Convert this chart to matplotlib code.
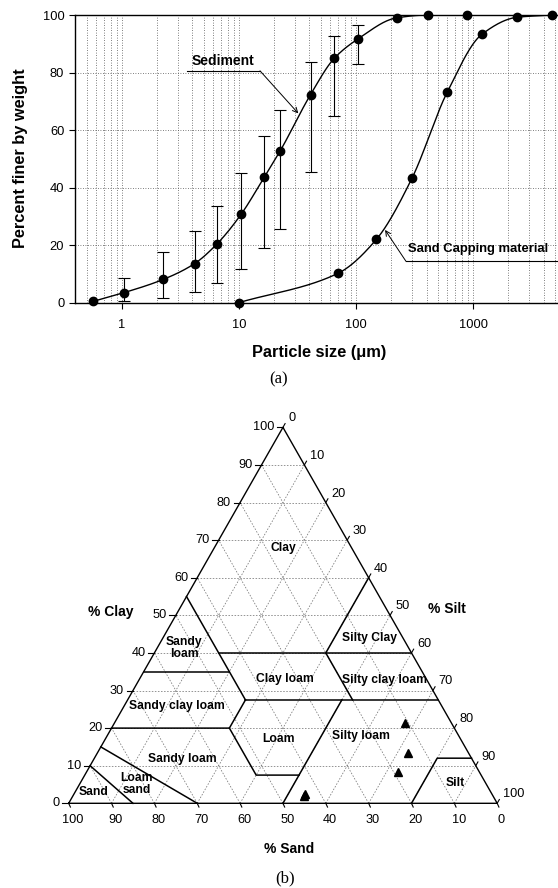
import numpy as np
import matplotlib
matplotlib.use("Agg")
import matplotlib.pyplot as plt

plt.rcParams['font.family'] = ['Liberation Sans', 'DejaVu Sans']

# ---- (a) particle size distribution
sed_size = [0.57, 1.04, 2.25, 4.17, 6.5, 10.4, 16.4, 22.5, 40.8, 65, 104, 222, 411, 881]
sed_finer = [0.5, 3.5, 8.1, 13.6, 20.5, 30.7, 43.6, 52.8, 72.3, 84.9, 91.7, 99.0, 100, 100]
# error bar ranges (only points 1..10 carry bars)
err_size = [1.04, 2.25, 4.17, 6.5, 10.4, 16.4, 22.5, 40.8, 65, 104]
err_low = [0.5, 1.7, 3.8, 6.7, 11.6, 18.9, 25.6, 45.4, 65.0, 83.0]
err_high = [8.5, 17.5, 25.1, 33.6, 45.2, 57.9, 67.0, 83.5, 92.8, 96.6]

cap_size = [9.9, 70, 149, 300, 600, 1190, 2370, 4760]
cap_finer = [0.0, 10.2, 22.0, 43.2, 73.1, 93.3, 99.2, 100]

size_ticks = [1, 10, 100, 1000]
finer_ticks = [0, 20, 40, 60, 80, 100]

# ---- (b) soil texture triangle, boundaries as (sand, clay) points
boundaries = [
    [(45, 55), (45, 27.5)],
    [(45, 40), (0, 40)],
    [(0, 60), (20, 40), (20, 27.5)],
    [(65, 35), (45, 35)],
    [(45, 27.5), (0, 27.5)],
    [(80, 20), (52.5, 20), (45, 27.5)],
    [(52.5, 20), (52.5, 7.5), (42.5, 7.5)],
    [(22.5, 27.5), (50, 0)],
    [(0, 12), (8, 12), (20, 0)],
    [(85, 15), (70, 0)],
    [(90, 10), (85, 0)],
]
zone_names = ["Clay", "Sandy\nloam", "Silty Clay", "Clay loam", "Silty clay loam",
              "Sandy clay loam", "Loam", "Silty loam", "Sandy loam", "Loam\nsand",
              "Sand", "Silt"]
zone_pos = [(50.0, 68.0), (27.0, 41.2), (70.3, 43.9), (50.4, 33.0), (73.7, 32.8),
            (25.3, 25.9), (48.9, 17.1), (68.3, 18.0), (26.6, 11.7), (15.8, 5.2),
            (5.8, 3.1), (90.1, 5.3)]

samp_sand = [10.8, 14.0, 19.0, 43.6, 44.1]
samp_silt = [67.8, 72.6, 72.6, 53.8, 53.9]
samp_clay = [21.4, 13.4, 8.4, 2.6, 2.0]

pct_ticks = list(range(0, 101, 10))


def pchip(x, y, xs):
    x = np.asarray(x, float)
    y = np.asarray(y, float)
    h = np.diff(x)
    d = np.diff(y) / h
    m = np.zeros_like(x)
    m[0], m[-1] = d[0], d[-1]
    for k in range(1, len(x) - 1):
        if d[k - 1] * d[k] > 0:
            w1 = 2 * h[k] + h[k - 1]
            w2 = h[k] + 2 * h[k - 1]
            m[k] = (w1 + w2) / (w1 / d[k - 1] + w2 / d[k])
    i = np.clip(np.searchsorted(x, xs) - 1, 0, len(x) - 2)
    t = (xs - x[i]) / h[i]
    h00 = 2 * t**3 - 3 * t**2 + 1
    h10 = t**3 - 2 * t**2 + t
    h01 = -2 * t**3 + 3 * t**2
    h11 = t**3 - t**2
    return h00 * y[i] + h10 * h[i] * m[i] + h01 * y[i + 1] + h11 * h[i] * m[i + 1]


def smooth(xv, yv):
    lx = np.log10(xv)
    xs = np.linspace(lx[0], lx[-1], 300)
    return 10**xs, pchip(lx, yv, xs)


fig = plt.figure(figsize=(5.58, 8.88), dpi=100)

# ================= panel (a)
ax = fig.add_axes([0.1339, 0.6591, 0.8661, 0.324])
ax.set_xscale('log')
ax.set_xlim(0.394, 5320)
ax.set_ylim(0, 100)

gs = dict(ls=(0, (1, 2)), color='#555555', lw=0.6)
ax.grid(True, which='both', axis='x', **gs)
ax.grid(True, which='major', axis='y', **gs)
ax.set_axisbelow(True)

sx, sy = smooth(sed_size, sed_finer)
ax.plot(sx, sy, color='k', lw=1.0)
cx, cy = smooth(cap_size, cap_finer)
ax.plot(cx, cy, color='k', lw=1.0)
ax.plot(sed_size, sed_finer, 'o', color='k', ms=6, clip_on=False)
ax.plot(cap_size, cap_finer, 'o', color='k', ms=6, clip_on=False)

ey = np.array(pchip(np.log10(sed_size), sed_finer, np.log10(err_size)))
ax.errorbar(err_size, ey, yerr=[ey - np.array(err_low), np.array(err_high) - ey],
            fmt='none', ecolor='k', elinewidth=0.8, capsize=4, capthick=0.8)

ax.set_xticks(size_ticks)
ax.set_xticklabels([str(v) for v in size_ticks])
ax.set_yticks(finer_ticks)
ax.tick_params(which='major', direction='out', length=4, width=0.8, labelsize=9.3)
ax.tick_params(axis='x', pad=8)
ax.tick_params(which='minor', length=0)
ax.spines['right'].set_visible(False)
for s in ['left', 'bottom', 'top']:
    ax.spines[s].set_linewidth(1.0)

# annotations
ax.text(7.25, 84, "Sediment", fontsize=10, fontweight='bold', ha='center', va='center')
ax.plot([3.57, 15.1], [80.6, 80.6], color='k', lw=0.8)
ax.annotate("", xy=(32.1, 65.8), xytext=(15.1, 80.6),
            arrowprops=dict(arrowstyle='->', lw=0.7, shrinkA=0, shrinkB=0, mutation_scale=9))
ax.text(280, 18.6, "Sand Capping material", fontsize=9.4, fontweight='bold',
        ha='left', va='center', clip_on=False)
ax.plot([267, 5320], [14.4, 14.4], color='k', lw=0.8, clip_on=False)
ax.annotate("", xy=(177, 25.3), xytext=(267, 14.4),
            arrowprops=dict(arrowstyle='->', lw=0.7, shrinkA=0, shrinkB=0, mutation_scale=9))

fig.text(0.0376, 0.822, "Percent finer by weight", rotation=90, fontsize=11.8,
         fontweight='bold', ha='center', va='center')
fig.text(0.572, 0.6025, "Particle size (\u03bcm)", fontsize=11.8, fontweight='bold',
         ha='center', va='center')
fig.text(0.5, 0.573, "(a)", fontsize=12, family='Liberation Serif', ha='center', va='center')

# ================= panel (b)
bx = fig.add_axes([0, 0, 1, 0.572])
bx.set_xlim(-16.03, 114.19)
bx.set_ylim(-22.53, 112.58)
bx.axis('off')


def cart(sand, clay):
    sand = np.asarray(sand, float)
    clay = np.asarray(clay, float)
    return 100 - sand - clay / 2, clay


# dotted grid
gl = dict(color='#777777', lw=0.55, ls=(0, (2, 2)))
for v in pct_ticks[1:-1]:
    bx.plot([v / 2, 100 - v / 2], [v, v], **gl)                  # clay
    bx.plot([v, v + (100 - v) / 2], [0, 100 - v], **gl)          # silt
    bx.plot([100 - v, (100 - v) / 2], [0, 100 - v], **gl)        # sand

# outline
bx.plot([0, 100, 50, 0], [0, 0, 100, 0], color='k', lw=1.0)

for line in boundaries:
    sa, cl = zip(*line)
    x, y = cart(sa, cl)
    bx.plot(x, y, color='k', lw=1.1)

for name, (px, py) in zip(zone_names, zone_pos):
    bx.text(px, py, name, fontsize=8.7, fontweight='bold', ha='center', va='center',
            linespacing=1.0)

# ticks and labels
for v in pct_ticks:
    # clay on left edge
    x0, y0 = v / 2, v
    bx.plot([x0 - 1.5, x0], [y0, y0], color='k', lw=0.8)
    bx.text(x0 - 2.1, y0, str(v), fontsize=9.2, ha='right', va='center')
    # silt on right edge
    x1, y1 = 50 + v / 2, 100 - v
    bx.plot([x1, x1 + 0.5], [y1, y1 + 1.0], color='k', lw=0.8)
    bx.text(x1 + 1.3, y1 + 2.4, str(v), fontsize=9.2, ha='left', va='center')
    # sand on base
    x2 = 100 - v
    bx.plot([x2, x2 + 0.4], [0, -1.0], color='k', lw=0.8)
    bx.text(x2 + 1.0, -4.45, str(v), fontsize=9.2, ha='center', va='center')

bx.text(9.7, 50.8, "% Clay", fontsize=10, fontweight='bold', ha='center', va='center')
bx.text(88.2, 51.7, "% Silt", fontsize=10, fontweight='bold', ha='center', va='center')
bx.text(51.4, -12.1, "% Sand", fontsize=10, fontweight='bold', ha='center', va='center')
bx.text(50.4, -19.9, "(b)", fontsize=12, family='Liberation Serif', ha='center', va='center')

mx, my = cart(samp_sand, samp_clay)
bx.plot(mx, my, '^', color='k', ms=6)

fig.savefig("out.png", dpi=100)
